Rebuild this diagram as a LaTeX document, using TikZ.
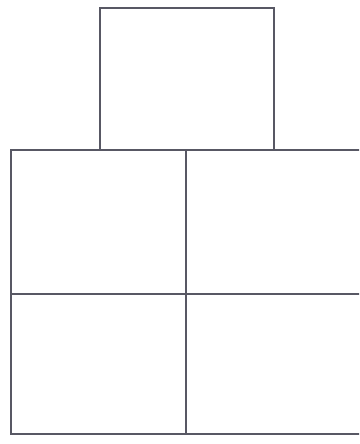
\documentclass[tikz,border=0pt]{standalone}
\usetikzlibrary{positioning}
\definecolor{pencil}{RGB}{88,88,100}
\tikzset{boxline/.style={draw=pencil,line width=1.4pt}}
\begin{document}
\begin{tikzpicture}[x=1pt,y=-1pt]
\useasboundingbox (0,0) rectangle (359,444);
\clip (0,0) rectangle (359,444);
% top square
\draw[boxline] (100,8) rectangle (274,150);
% lower grid, right edge runs off the page
\draw[boxline] (11,150) rectangle (364,434);
\draw[boxline] (186,150) -- (186,434);
\draw[boxline] (11,294) -- (364,294);
\end{tikzpicture}
\end{document}
